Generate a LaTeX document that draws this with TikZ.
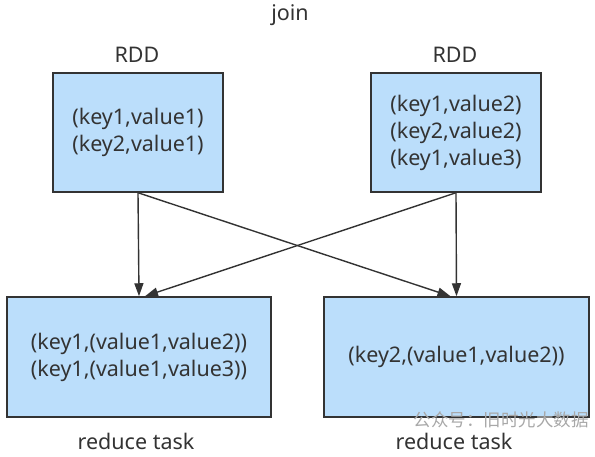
\documentclass[tikz,border=0pt]{standalone}
\usepackage{fontspec}
\setmainfont{Noto Sans}
\newfontfamily\cjkfont{Noto Sans CJK SC}
\usetikzlibrary{arrows.meta,calc}
\definecolor{boxfill}{HTML}{BBDEFB}
\definecolor{boxline}{HTML}{333333}
\definecolor{txt}{HTML}{333333}
\definecolor{wm}{HTML}{A8A8A8}
\begin{document}
\begin{tikzpicture}[x=1pt,y=-1pt,
  databox/.style={draw=boxline,line width=1.5pt,fill=boxfill,inner sep=0pt,
    text=txt,align=center,font=\fontsize{21.5}{27}\selectfont},
  lbl/.style={text=txt,inner sep=0pt,font=\fontsize{21.5}{26}\selectfont},
  arr/.style={draw=boxline,line width=1.4pt,-{Triangle[length=13pt,width=9pt]}}]
\useasboundingbox (0,0) rectangle (595,457);
\node[lbl] (join) at (290,15) {join};
\node[lbl] (rddl) at (137,55) {RDD};
\node[lbl] (rddr) at (455,55) {RDD};
\node[databox,minimum width=170pt,minimum height=119pt] (tl) at (138,132.5)
  {(key1,value1)\\(key2,value1)};
\node[databox,minimum width=170pt,minimum height=119pt] (tr) at (456,132.5)
  {(key1,value2)\\(key2,value2)\\(key1,value3)};
\node[databox,minimum width=264pt,minimum height=120pt] (bl) at (139,357)
  {(key1,(value1,value2))\\(key1,(value1,value3))};
\node[databox,minimum width=265pt,minimum height=120pt] (br) at (456.5,357)
  {(key2,(value1,value2))};
\node[lbl] (rtl) at (136,441) {reduce task};
\node[lbl] (rtr) at (454,441) {reduce task};
\node[anchor=east,inner sep=0pt,text=wm,font=\cjkfont\fontsize{17.5}{20}\selectfont] (wmk) at (589,420) {公众号：旧时光大数据};
\draw[arr] (tl.south) -- (bl.north);
\draw[arr] (tr.south) -- (br.north);
\draw[arr] (tl.south) -- ($(br.north)+(-6,0)$);
\draw[arr] (tr.south) -- ($(bl.north)+(6,0)$);
\end{tikzpicture}
\end{document}
